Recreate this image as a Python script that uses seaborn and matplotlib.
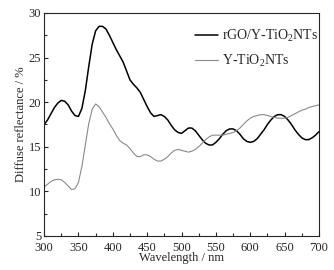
import numpy as np
import pandas as pd
import matplotlib
matplotlib.use("Agg")
import matplotlib.pyplot as plt
import seaborn as sns
from matplotlib.ticker import MultipleLocator

# Data (5 nm steps)
wavelength = list(range(300, 705, 5))
rgo_y_tio2 = [17.5, 18.0, 18.7, 19.4, 19.9, 20.2, 20.1, 19.7, 19.0, 18.5,
              18.4, 19.3, 21.3, 24.0, 26.5, 28.0, 28.5, 28.5, 28.2, 27.5,
              26.7, 25.9, 25.2, 24.5, 23.5, 22.5, 22.0, 21.6, 21.1, 20.3,
              19.5, 18.8, 18.4, 18.5, 18.6, 18.4, 18.0, 17.4, 16.9, 16.6,
              16.5, 16.8, 17.1, 17.1, 16.8, 16.3, 15.8, 15.4, 15.2, 15.2,
              15.5, 15.9, 16.4, 16.8, 17.0, 17.0, 16.8, 16.4, 15.9, 15.6,
              15.5, 15.6, 15.9, 16.4, 16.9, 17.5, 18.0, 18.4, 18.6, 18.6,
              18.4, 18.0, 17.5, 16.9, 16.4, 16.0, 15.8, 15.8, 16.0, 16.3, 16.7]
y_tio2 = [10.5, 10.8, 11.1, 11.3, 11.35, 11.3, 11.0, 10.6, 10.2, 10.3,
          11.0, 12.8, 15.2, 17.6, 19.2, 19.8, 19.5, 18.9, 18.3, 17.6,
          17.0, 16.3, 15.7, 15.4, 15.2, 14.8, 14.3, 13.9, 13.9, 14.1,
          14.1, 13.9, 13.6, 13.4, 13.4, 13.6, 13.9, 14.3, 14.6, 14.7,
          14.6, 14.5, 14.4, 14.5, 14.7, 15.0, 15.4, 15.8, 16.1, 16.3,
          16.3, 16.3, 16.3, 16.4, 16.5, 16.6, 16.8, 17.1, 17.5, 17.9,
          18.2, 18.4, 18.5, 18.6, 18.6, 18.5, 18.4, 18.3, 18.2, 18.2,
          18.2, 18.3, 18.5, 18.7, 18.9, 19.1, 19.2, 19.4, 19.5, 19.6, 19.7]

labels = [r"rGO/Y-TiO$_2$NTs", r"Y-TiO$_2$NTs"]

df = pd.DataFrame({"Wavelength": wavelength, labels[0]: rgo_y_tio2, labels[1]: y_tio2})

sns.set_style("ticks")
plt.rcParams["font.family"] = ["Liberation Serif", "DejaVu Serif"]
plt.rcParams["mathtext.fontset"] = "custom"
plt.rcParams["mathtext.rm"] = "Liberation Serif"
plt.rcParams["mathtext.it"] = "Liberation Serif:italic"

fig = plt.figure(figsize=(3.34, 2.70), dpi=100)
ax = fig.add_axes([0.132, 0.126, 0.823, 0.826])

sns.lineplot(data=df, x="Wavelength", y=labels[0], ax=ax, color="black", lw=1.1, label=labels[0])
sns.lineplot(data=df, x="Wavelength", y=labels[1], ax=ax, color="#8a8a8a", lw=0.8, label=labels[1])

ax.set_xlim(300, 700)
ax.set_ylim(5, 30)
ax.xaxis.set_major_locator(MultipleLocator(50))
ax.xaxis.set_minor_locator(MultipleLocator(25))
ax.yaxis.set_major_locator(MultipleLocator(5))
ax.yaxis.set_minor_locator(MultipleLocator(2.5))
ax.tick_params(which="both", direction="in", labelsize=9, width=0.8)
ax.tick_params(axis="x", pad=4)
ax.tick_params(axis="y", pad=2)
ax.tick_params(which="major", length=3)
ax.tick_params(which="minor", length=2)
ax.set_xlabel("Wavelength / nm", fontsize=9, labelpad=-1)
ax.set_ylabel("Diffuse reflectance / %", fontsize=9, labelpad=1)
for s in ax.spines.values():
    s.set_linewidth(0.8)
    s.set_visible(True)

ax.legend(loc="upper left", bbox_to_anchor=(0.549, 0.935), frameon=False, fontsize=10,
          borderaxespad=0, borderpad=0, handlelength=1.65, handletextpad=0.3, labelspacing=0.7)

fig.savefig("out.png", dpi=100)
